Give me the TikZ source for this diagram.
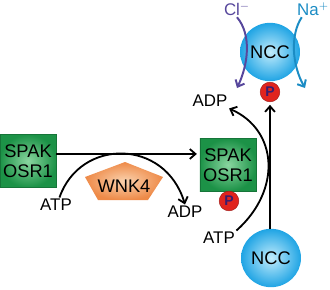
\documentclass[tikz,border=0pt]{standalone}
\usepackage{fontspec}
\setmainfont{Liberation Sans}
\usetikzlibrary{arrows.meta,positioning,shapes.geometric}
\definecolor{kgreen}{HTML}{1C9247}
\definecolor{kgreenlt}{HTML}{8AD6A0}
\definecolor{korange}{HTML}{EE8A48}
\definecolor{korangelt}{HTML}{FAD2AE}
\definecolor{kblue}{HTML}{1FA4E4}
\definecolor{kbluelt}{HTML}{C2ECFC}
\definecolor{kred}{HTML}{E0241E}
\definecolor{kpurple}{HTML}{3B1C6E}
\definecolor{clcol}{HTML}{57479C}
\definecolor{nacol}{HTML}{1B8CC4}

\begin{document}
\begin{tikzpicture}[x=0.025cm,y=-0.025cm,>={Straight Barb[length=4pt,width=7pt]},
  lbl/.style={font=\fontsize{12}{14}\selectfont,inner sep=1pt},
  big/.style={font=\fontsize{13}{14.5}\selectfont,inner sep=1pt},
  kinase/.style={big,align=center,minimum width=40pt,minimum height=37.5pt,
    inner color=kgreenlt,outer color=kgreen,draw=kgreen!80!black,line width=0.3pt},
  ncc/.style={big,ellipse,minimum width=33pt,minimum height=41.5pt,
    inner color=kbluelt,outer color=kblue},
  phos/.style={circle,minimum size=14pt,inner sep=0pt,fill=kred,draw=kred!70!black,
    line width=0.3pt,font=\bfseries\fontsize{10}{10}\selectfont,text=kpurple},
  rxn/.style={->,line width=1.3pt}]
  \useasboundingbox (0,0) rectangle (330,290);
  % WNK4 pentagon
  \path[inner color=korangelt,outer color=korange]
    (125,162) -- (163,177) -- (148,200) -- (98,200) -- (85,177) -- cycle;
  \node[big] (wnk) at (124,186) {WNK4};
  % kinases
  \node[kinase] (spakL) at (28,161) {SPAK\\OSR1};
  \node[kinase] (spakR) at (228,165) {SPAK\\OSR1};
  \node[phos] (pR) at (229,201) {P};
  % NCC and ions
  \node[ncc] (nccT) at (270,52) {NCC};
  \node[phos] (pT) at (270,92) {P};
  \node[ncc] (nccB) at (271,258) {NCC};
  \node[lbl,text=clcol] (cl) at (237,9) {Cl$^{-}$};
  \node[lbl,text=nacol] (na) at (313,9) {Na$^{+}$};
  \coordinate (clin) at (237,88);
  \coordinate (naout) at (305,88);
  % nucleotides
  \node[lbl] (atpL) at (56,205) {ATP};
  \node[lbl] (adpL) at (185,212) {ADP};
  \node[lbl] (atpR) at (219,238) {ATP};
  \node[lbl] (adpT) at (210,101) {ADP};
  % reactions
  \draw[rxn] ([yshift=5pt]spakL.east) -- ([yshift=5pt,xshift=-2pt]spakL.east -| spakR.west);
  \draw[rxn] (atpL.65) .. controls (80,138) and (165,138) .. (adpL.north);
  \draw[rxn] (atpR.north east) .. controls (282,190) and (278,130) .. (adpT.south east);
  \draw[rxn,shorten >=2pt] (nccB.north -| pT.south) -- (pT.south);
  \draw[->,line width=1.4pt,draw=clcol] (cl.south) .. controls (252,35) and (248,65) .. (clin);
  \draw[->,line width=1.4pt,draw=nacol] ([xshift=-8pt]na.south) .. controls (290,35) and (292,65) .. (naout);
\end{tikzpicture}
\end{document}
